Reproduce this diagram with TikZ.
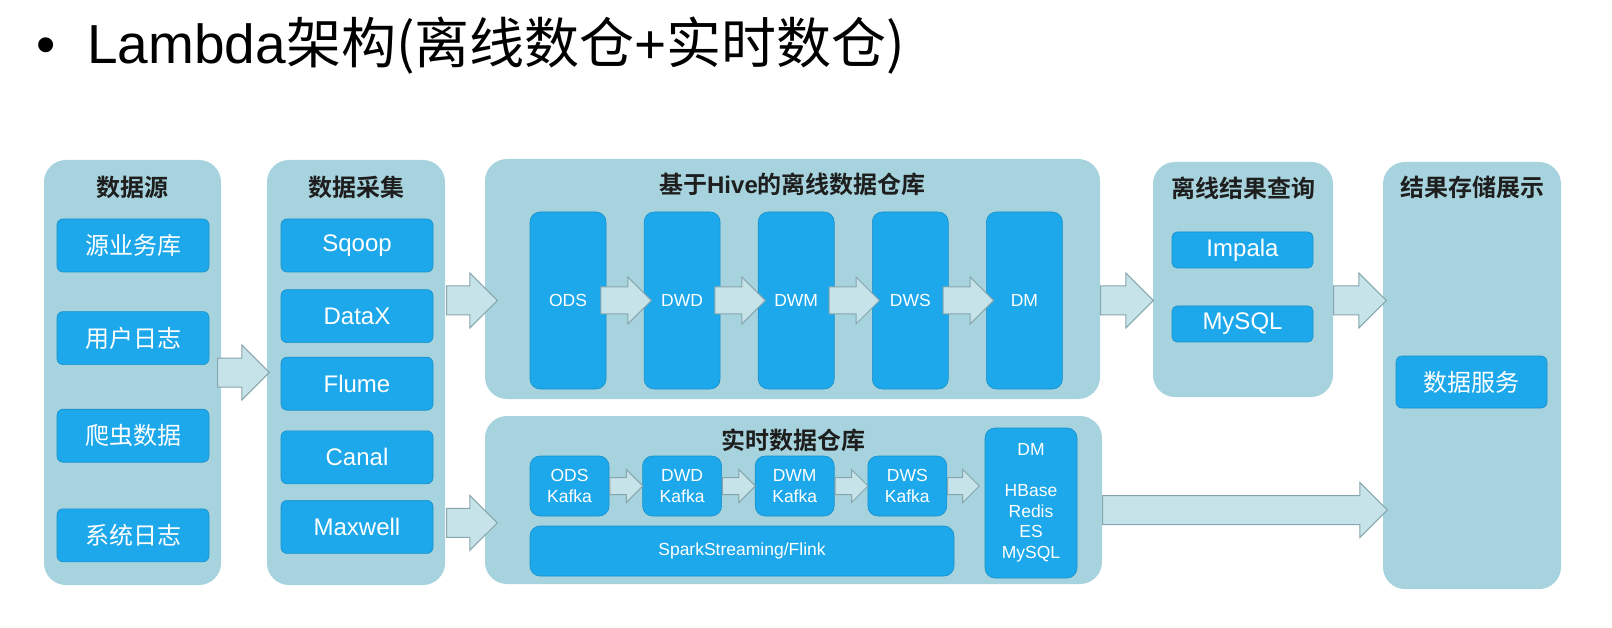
\documentclass[tikz,border=0pt]{standalone}
\usepackage{fontspec}
\setmainfont{Liberation Sans}
\newfontfamily\zh{Noto Sans CJK SC}[BoldFont={Noto Sans CJK SC Bold}]
\usetikzlibrary{positioning,shapes.arrows,calc}
\definecolor{panelc}{RGB}{166,211,221}
\definecolor{boxc}{RGB}{29,168,235}
\definecolor{arrc}{RGB}{198,227,233}
\definecolor{arrline}{RGB}{135,165,172}
\definecolor{headc}{RGB}{30,30,30}
\newcommand\fatarrow[3][]{%
  \path let \p1=#2, \p2=#3, \n1={\x2-\x1} in
    node[fatarr,#1,minimum height=\n1,anchor=tail] at (\x1,\y1) {};}
\begin{document}
\begin{tikzpicture}[
x=1pt, y=-1pt,
panel/.style={fill=panelc, rounded corners=22pt, inner sep=0pt},
ptitle/.style={font=\zh\bfseries\fontsize{24}{28}\selectfont, text=headc, inner sep=0pt},
item/.style={fill=boxc, draw=boxc!85!black, line width=0.6pt, rounded corners=6pt, text=white,
  minimum width=152, minimum height=53, inner sep=0pt, font=\fontsize{24}{28}\selectfont},
layer/.style={item, minimum width=76, minimum height=177, rounded corners=10pt,
  font=\fontsize{17.5}{20.5}\selectfont},
kafka/.style={layer, minimum width=79, minimum height=60, align=center},
fatarr/.style={single arrow, single arrow head extend=13pt, inner xsep=0pt, inner ysep=14pt,
  fill=arrc, draw=arrline, line width=1pt},
smallarr/.style={single arrow head extend=10pt, inner ysep=13pt},
tinyarr/.style={single arrow head extend=8pt, inner ysep=8pt}
]
\useasboundingbox (0,0) rectangle (1612,628);
\node[anchor=base west, inner sep=0pt, font=\fontsize{55}{60}\selectfont] (title) at (36,64)
  {•\hspace{32pt}Lambda{\zh 架构(离线数仓}+{\zh 实时数仓)}};

\node[panel, minimum width=177, minimum height=425] (src) at (132.5,372.5) {};
\node[panel, minimum width=178, minimum height=425] (col) at (356,372.5) {};
\node[panel, minimum width=615, minimum height=240] (off) at (792.5,279) {};
\node[panel, minimum width=617, minimum height=168] (rt) at (793.5,500) {};
\node[panel, minimum width=180, minimum height=235] (qry) at (1243,279.5) {};
\node[panel, minimum width=178, minimum height=427] (res) at (1472,375.5) {};

\node[ptitle] (srct) at ([yshift=-28pt]src.north) {数据源};
\node[ptitle] (colt) at ([yshift=-28pt]col.north) {数据采集};
\node[ptitle] (offt) at ([yshift=-26pt]off.north) {基于{\rmfamily Hive}的离线数据仓库};
\node[ptitle] (rtt) at ([yshift=-24pt]rt.north) {实时数据仓库};
\node[ptitle] (qryt) at ([yshift=-26pt]qry.north) {离线结果查询};
\node[ptitle] (rest) at ([yshift=-26pt]res.north) {结果存储展示};

\node[item] (biz) at (133,245.5) {\zh 源业务库};
\node[item, below=39pt of biz] (ulog) {\zh 用户日志};
\node[item, below=44pt of ulog] (crawl) {\zh 爬虫数据};
\node[item, below=46pt of crawl] (slog) {\zh 系统日志};

\node[item] (sqoop) at (357,245.5) {Sqoop};
\node[item, below=17pt of sqoop] (datax) {DataX};
\node[item, below=14pt of datax] (flume) {Flume};
\node[item, below=20pt of flume] (canal) {Canal};
\node[item, below=16pt of canal] (maxwell) {Maxwell};

\node[layer] (ods) at (568,300.5) {ODS};
\node[layer, right=37.5pt of ods] (dwd) {DWD};
\node[layer, right=37.5pt of dwd] (dwm) {DWM};
\node[layer, right=37.5pt of dwm] (dws) {DWS};
\node[layer, right=37.5pt of dws] (dm) {DM};

\node[kafka] (odsk) at (569.5,486) {ODS\\Kafka};
\node[kafka, right=33pt of odsk] (dwdk) {DWD\\Kafka};
\node[kafka, right=33pt of dwdk] (dwmk) {DWM\\Kafka};
\node[kafka, right=33pt of dwmk] (dwsk) {DWS\\Kafka};
\node[layer, minimum width=424, minimum height=50] (spark) at (742,551) {SparkStreaming/Flink};
\node[layer, minimum width=92, minimum height=150, align=center] (dmrt) at (1031,503)
  {DM\\[20.5pt]HBase\\Redis\\ES\\MySQL};

\node[item, minimum width=141, minimum height=36, rounded corners=5pt] (impala) at (1242.5,250) {Impala};
\node[item, minimum width=141, minimum height=36, rounded corners=5pt] (mysql) at (1242.5,324) {MySQL};
\node[item, minimum width=151, minimum height=52] (serve) at (1471.5,382) {\zh 数据服务};

\fatarrow{([xshift=-4pt]src.east)}{([xshift=2pt]col.west)}
\fatarrow{([xshift=1pt]col.east |- ods)}{([xshift=12pt]off.west |- ods)}
\fatarrow{([xshift=1pt,yshift=4pt]col.east |- maxwell)}{([xshift=12pt,yshift=4pt]rt.west |- maxwell)}
\fatarrow{(off.east |- ods)}{(qry.west |- ods)}
\fatarrow{(qry.east |- ods)}{([xshift=3pt]res.west |- ods)}
\fatarrow{([yshift=-7pt]rt.east |- dmrt)}{([xshift=4pt,yshift=-7pt]res.west |- dmrt)}

\fatarrow[smallarr]{([xshift=-6pt]ods.east)}{([xshift=7pt]dwd.west)}
\fatarrow[smallarr]{([xshift=-6pt]dwd.east)}{([xshift=7pt]dwm.west)}
\fatarrow[smallarr]{([xshift=-6pt]dwm.east)}{([xshift=7pt]dws.west)}
\fatarrow[smallarr]{([xshift=-6pt]dws.east)}{([xshift=7pt]dm.west)}

\fatarrow[tinyarr]{(odsk.east)}{(dwdk.west)}
\fatarrow[tinyarr]{(dwdk.east)}{(dwmk.west)}
\fatarrow[tinyarr]{(dwmk.east)}{(dwsk.west)}
\fatarrow[tinyarr]{(dwsk.east)}{([xshift=-6pt]dmrt.west |- dwsk)}
\end{tikzpicture}
\end{document}
